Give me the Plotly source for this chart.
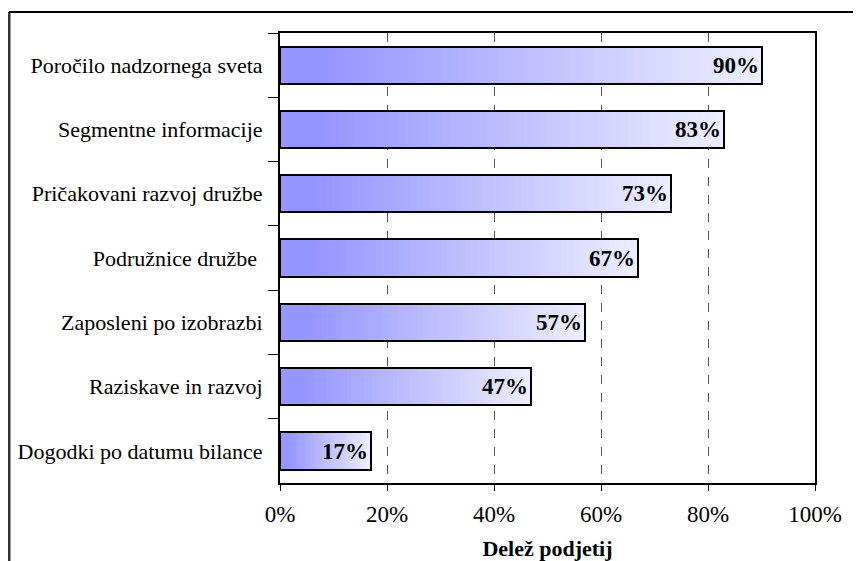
import plotly.graph_objects as go

categories = [
    "Poročilo nadzornega sveta",
    "Segmentne informacije",
    "Pričakovani razvoj družbe",
    "Podružnice družbe ",
    "Zaposleni po izobrazbi",
    "Raziskave in razvoj",
    "Dogodki po datumu bilance",
]
values = [90, 83, 73, 67, 57, 47, 17]
value_labels = ["90%", "83%", "73%", "67%", "57%", "47%", "17%"]
x_tickvals = [0, 20, 40, 60, 80, 100]
x_ticktext = ["0%", "20%", "40%", "60%", "80%", "100%"]
x_title = "Delež podjetij"

FONT = "Liberation Serif"
OFF = 8  # page body margin
W, H = 861 - OFF, 561 - OFF
PL, PR, PT, PB = 280, 815, 33, 483  # plot area in page pixels
L, R, T, B = PL - OFF, W + OFF - PR, PT - OFF, H + OFF - PB

start_rgb = (150, 150, 255)
end_rgb = (238, 238, 255)
N = 60

fig = go.Figure()

# gradient segments for each bar
for i in range(N):
    t0 = i / N
    tm = (i + 0.5) / N
    f = max(0.0, (tm - 0.1) / 0.9)
    c = tuple(round(s + (e - s) * f) for s, e in zip(start_rgb, end_rgb))
    fig.add_trace(go.Bar(
        y=categories,
        x=[v / N for v in values],
        base=[v * t0 for v in values],
        orientation="h",
        width=0.58,
        marker=dict(color="rgb(%d,%d,%d)" % c, line=dict(width=0)),
        hoverinfo="skip",
        showlegend=False,
    ))

# outline + labels
fig.add_trace(go.Bar(
    y=categories,
    x=values,
    orientation="h",
    width=0.58,
    marker=dict(color="rgba(0,0,0,0)", line=dict(color="black", width=2)),
    text=value_labels,
    textposition="inside",
    insidetextanchor="end",
    insidetextfont=dict(family=FONT, size=23, color="black", weight="bold"),
    textangle=0,
    constraintext="none",
    showlegend=False,
))

pw = PR - PL
ph = PB - PT

def px_x(x):
    return (x - PL) / pw

def px_y(y):
    return (PB - y) / ph

# outer frame (left and top edges visible)
fig.add_shape(type="line", xref="paper", yref="paper",
              x0=px_x(9), x1=px_x(9), y0=px_y(12), y1=px_y(575),
              line=dict(color="#333", width=3))
fig.add_shape(type="line", xref="paper", yref="paper",
              x0=px_x(9), x1=px_x(875), y0=px_y(12), y1=px_y(12),
              line=dict(color="black", width=2))

fig.update_layout(
    width=W, height=H,
    margin=dict(l=L, r=R, t=T, b=B, pad=0, autoexpand=False),
    barmode="overlay",
    bargap=0,
    plot_bgcolor="white",
    paper_bgcolor="white",
    font=dict(family=FONT, size=23, color="black"),
    xaxis=dict(
        automargin=False,
        range=[0, 100],
        tickvals=x_tickvals,
        ticktext=x_ticktext,
        ticks="outside", ticklen=6, tickcolor="black", tickwidth=1,
        showline=True, linecolor="black", linewidth=2, mirror=True,
        showgrid=True, gridcolor="#555", griddash="dash", gridwidth=1,
        zeroline=False,
        tickfont=dict(family=FONT, size=23, color="black"),
        ticklabelstandoff=3,
        title=dict(text=x_title, font=dict(family=FONT, size=22, color="black", weight="bold"), standoff=19),
        fixedrange=True,
    ),
    yaxis=dict(
        automargin=False,
        type="category",
        categoryorder="array",
        categoryarray=categories,
        autorange="reversed",
        tickson="boundaries",
        ticks="outside", ticklen=10, tickcolor="black", tickwidth=1,
        showline=True, linecolor="black", linewidth=2, mirror=True,
        showgrid=False, zeroline=False,
        tickfont=dict(family=FONT, size=22, color="black"),
        ticklabelstandoff=11,
        fixedrange=True,
    ),
)

fig.write_html("out.html")
